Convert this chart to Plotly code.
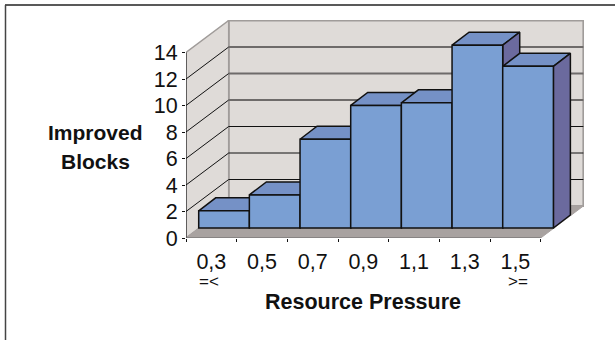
import plotly.graph_objects as go

categories = ["0,3", "0,5", "0,7", "0,9", "1,1", "1,3", "1,5"]
improved_blocks = [1.3, 2.5, 6.7, 9.25, 9.45, 13.8, 12.2]
y_ticks = [0, 2, 4, 6, 8, 10, 12, 14]

WIDTH, HEIGHT = 615, 340
L, R, T, B = 186, 31, 20, 102
UX, UY = 50.67, 13.25          # px per category / per value unit
WALL_DX, WALL_DY = 42.7 / UX, 32 / UY     # depth of floor
PLANE_DX, PLANE_DY = 12.7 / UX, 10 / UY   # offset of the bars' front plane
BAR_DX, BAR_DY = 17 / UX, 13 / UY         # depth of a bar
x_range = [0, (WIDTH - L - R) / UX]
y_range = [0, (HEIGHT - T - B) / UY]
n = len(categories)
ymax = y_ticks[-1]

FRONT, TOP, SIDE = "#7A9FD3", "#7591C6", "#6B6A9E"
WALL, FLOOR, EDGE = "#DFDBD8", "#A8A2A0", "#A09C9A"
FONT = "Liberation Sans, Arial, sans-serif"

fig = go.Figure()


def poly(xs, ys, fill=None, line="black", width=1.5):
    fig.add_trace(go.Scatter(
        x=xs, y=ys, mode="lines", fill="toself" if fill else None,
        fillcolor=fill, line=dict(color=line, width=width),
        cliponaxis=False, hoverinfo="skip", showlegend=False))


# walls and floor
poly([WALL_DX, n + WALL_DX, n + WALL_DX, WALL_DX, WALL_DX],
     [WALL_DY, WALL_DY, ymax + WALL_DY, ymax + WALL_DY, WALL_DY], WALL, EDGE, 2)
poly([0, WALL_DX, WALL_DX, 0, 0],
     [0, WALL_DY, ymax + WALL_DY, ymax, 0], WALL, EDGE, 1.5)
poly([0, n, n + WALL_DX, WALL_DX, 0],
     [0, 0, WALL_DY, WALL_DY, 0], FLOOR, FLOOR, 1)

# gridlines
for t in y_ticks[1:-1]:
    upper = t >= 8
    poly([0, WALL_DX], [t, t + WALL_DY], None, "#111111", 1)
    poly([WALL_DX, n + WALL_DX], [t + WALL_DY, t + WALL_DY], None,
         "#6E6B6A" if upper else "#111111", 1.8 if upper else 1)

# tops and sides of bars, left to right
for i, v in enumerate(improved_blocks):
    x0, x1, base = i + PLANE_DX, i + 1 + PLANE_DX, PLANE_DY
    top = base + v
    poly([x0, x1, x1 + BAR_DX, x0 + BAR_DX, x0],
         [top, top, top + BAR_DY, top + BAR_DY, top], TOP, "#111111", 1.5)
    poly([x1, x1 + BAR_DX, x1 + BAR_DX, x1, x1],
         [base, base + BAR_DY, top + BAR_DY, top, base], SIDE, "#111111", 1.5)

# axes lines
poly([0, 0], [0, ymax], None, "#111111", 1)
poly([0, n], [0, 0], None, "#666666", 1)

# front faces of bars on an overlaying pair of axes
fig.add_trace(go.Bar(
    x=[i + 0.5 + PLANE_DX for i in range(n)], y=improved_blocks,
    base=[PLANE_DY] * n, width=[1] * n, xaxis="x2", yaxis="y2",
    marker=dict(color=FRONT, line=dict(color="#111111", width=1.5)),
    hoverinfo="skip", showlegend=False))


def px(x):
    return (x - L) / (WIDTH - L - R)


def py(y):
    return 1 - (y - T) / (HEIGHT - T - B)


shapes = [
    dict(type="line", xref="paper", yref="paper", x0=px(5), x1=px(615), y0=py(5), y1=py(5),
         line=dict(color="#222222", width=1.5)),
    dict(type="line", xref="paper", yref="paper", x0=px(5.5), x1=px(5.5), y0=py(5), y1=py(340),
         line=dict(color="#444444", width=1.5)),
]


def note(text, x, y, size):
    return dict(text=text, x=px(x), y=py(y), xref="paper", yref="paper", showarrow=False,
                xanchor="center", yanchor="middle",
                font=dict(size=size, family=FONT, color="#111111"))


annotations = [
    note("<b>Improved</b>", 95, 132, 21),
    note("<b>Blocks</b>", 95, 161, 21),
    note("<b>Resource Pressure</b>", 363, 302, 21.5),
    note("=&lt;", 209, 281, 17),
    note("&gt;=", 517.5, 281, 17),
]

fig.update_layout(
    width=WIDTH, height=HEIGHT, autosize=False,
    margin=dict(l=L, r=R, t=T, b=B),
    paper_bgcolor="white", plot_bgcolor="white",
    font=dict(family=FONT, size=21.5, color="#111111"),
    shapes=shapes, annotations=annotations, showlegend=False,
    xaxis=dict(range=x_range, showgrid=False, zeroline=False, showline=False,
               tickvals=[i + 0.5 for i in range(n)], ticktext=categories, ticks="",
               ticklabelstandoff=8, tickfont=dict(size=21.5, family=FONT),
               minor=dict(tickvals=list(range(n + 1)), ticks="outside", ticklen=3,
                          tickcolor="#111111", tickwidth=1, showgrid=False)),
    yaxis=dict(range=y_range, showgrid=False, zeroline=False, showline=False,
               tickvals=y_ticks, ticks="outside", ticklen=3, tickcolor="#111111",
               tickfont=dict(size=21.5, family=FONT)),
    xaxis2=dict(range=x_range, overlaying="x", visible=False),
    yaxis2=dict(range=y_range, overlaying="y", visible=False),
)

fig.write_html("out.html", config=dict(displayModeBar=False),
               post_script="document.body.style.margin='0';")
